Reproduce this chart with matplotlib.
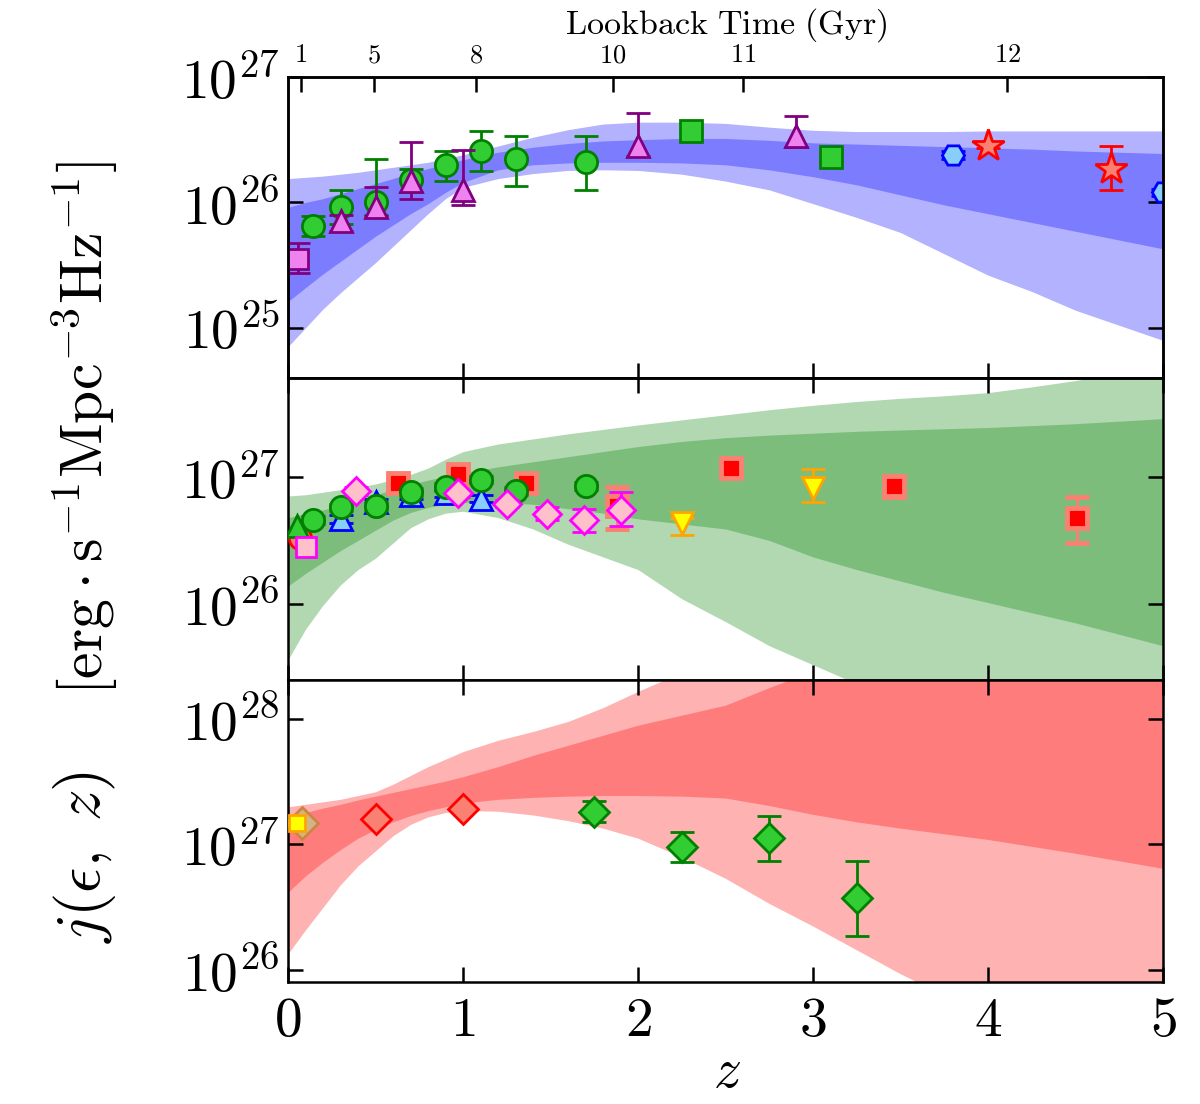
import numpy as np
import matplotlib
matplotlib.use('Agg')
import matplotlib.pyplot as plt
from matplotlib.ticker import FixedLocator, FixedFormatter, NullLocator

plt.rcParams['mathtext.fontset'] = 'cm'
plt.rcParams['font.family'] = ['DejaVu Serif']

# ---------------- data (log10 of j) ----------------
band_z = [0, 0.1, 0.2, 0.3, 0.4, 0.5, 0.6, 0.7, 0.8, 0.9, 1.0, 1.2, 1.4, 1.6, 1.8,
          2.0, 2.25, 2.5, 2.75, 3.0, 3.25, 3.5, 3.75, 4.0, 4.25, 4.5, 4.75, 5.0]

uv_out_hi = [26.19, 26.20, 26.21, 26.225, 26.24, 26.26, 26.28, 26.30, 26.32, 26.35, 26.38, 26.45, 26.52, 26.58, 26.625,
             26.64, 26.64, 26.63, 26.60, 26.575, 26.565, 26.565, 26.565, 26.57, 26.57, 26.57, 26.57, 26.57]
uv_in_hi = [25.96, 26.00, 26.03, 26.07, 26.11, 26.15, 26.19, 26.235, 26.27, 26.305, 26.34, 26.40, 26.44, 26.47, 26.49,
            26.50, 26.51, 26.51, 26.495, 26.475, 26.465, 26.455, 26.445, 26.435, 26.425, 26.41, 26.40, 26.39]
uv_in_lo = [25.21, 25.32, 25.43, 25.53, 25.63, 25.73, 25.82, 25.91, 25.99, 26.08, 26.16, 26.26, 26.30, 26.315, 26.32,
            26.32, 26.315, 26.30, 26.26, 26.205, 26.14, 26.06, 25.98, 25.91, 25.84, 25.77, 25.70, 25.63]
uv_out_lo = [24.85, 25.00, 25.15, 25.28, 25.40, 25.52, 25.65, 25.78, 25.91, 26.03, 26.12, 26.19, 26.23, 26.255, 26.26,
             26.255, 26.225, 26.17, 26.10, 25.99, 25.88, 25.76, 25.59, 25.42, 25.29, 25.14, 25.02, 24.90]

opt_out_hi = [26.85, 26.86, 26.88, 26.90, 26.92, 26.945, 26.98, 27.02, 27.07, 27.14, 27.20, 27.26, 27.30, 27.34, 27.375,
              27.41, 27.45, 27.49, 27.53, 27.565, 27.595, 27.62, 27.64, 27.665, 27.71, 27.76, 27.82, 27.88]
opt_in_hi = [26.68, 26.71, 26.74, 26.78, 26.82, 26.86, 26.90, 26.94, 26.975, 27.005, 27.03, 27.08, 27.12, 27.16, 27.20,
             27.24, 27.28, 27.31, 27.33, 27.345, 27.36, 27.37, 27.38, 27.39, 27.405, 27.42, 27.44, 27.46]
opt_in_lo = [26.14, 26.24, 26.33, 26.42, 26.50, 26.58, 26.66, 26.72, 26.76, 26.785, 26.80, 26.80, 26.785, 26.75, 26.715,
             26.67, 26.63, 26.59, 26.50, 26.37, 26.27, 26.18, 26.09, 26.01, 25.93, 25.85, 25.76, 25.67]
opt_out_lo = [25.56, 25.80, 25.99, 26.15, 26.27, 26.36, 26.48, 26.60, 26.67, 26.715, 26.73, 26.68, 26.59, 26.47, 26.37,
              26.27, 26.04, 25.86, 25.67, 25.52, 25.37, 25.24, 25.12, 25.00, 24.90, 24.80, 24.70, 24.60]

nir_out_hi = [27.30, 27.32, 27.34, 27.36, 27.39, 27.42, 27.48, 27.55, 27.62, 27.68, 27.74, 27.83, 27.90, 27.98, 28.09,
              28.22, 28.37, 28.50, 28.60, 28.70, 28.78, 28.85, 28.92, 28.98, 29.04, 29.10, 29.15, 29.20]
nir_in_hi = [27.22, 27.255, 27.29, 27.32, 27.355, 27.385, 27.415, 27.445, 27.475, 27.505, 27.54, 27.62, 27.71, 27.79, 27.87,
             27.95, 28.03, 28.11, 28.25, 28.38, 28.50, 28.60, 28.70, 28.78, 28.86, 28.93, 29.00, 29.05]
nir_in_lo = [26.62, 26.75, 26.86, 26.96, 27.05, 27.12, 27.18, 27.23, 27.27, 27.30, 27.33, 27.36, 27.375, 27.385, 27.39,
             27.39, 27.385, 27.37, 27.31, 27.24, 27.18, 27.13, 27.085, 27.04, 26.985, 26.93, 26.87, 26.81]
nir_out_lo = [26.13, 26.32, 26.50, 26.68, 26.83, 26.95, 27.07, 27.16, 27.22, 27.255, 27.27, 27.265, 27.235, 27.19, 27.13,
              27.05, 26.90, 26.73, 26.53, 26.35, 26.16, 25.97, 25.80, 25.65, 25.50, 25.35, 25.22, 25.10]

# UV points
uv_sq_z = [0.055]
uv_sq_j = [25.546]
uv_sq_lo = [25.434]
uv_sq_hi = [25.673]
uv_circ_z = [0.14, 0.30, 0.50, 0.70, 0.90, 1.10, 1.30, 1.70]
uv_circ_j = [25.81, 25.96, 26.00, 26.18, 26.30, 26.41, 26.35, 26.32]
uv_circ_lo = [25.73, 25.83, 25.90, 26.08, 26.17, 26.25, 26.13, 26.10]
uv_circ_hi = [25.89, 26.10, 26.35, 26.27, 26.41, 26.57, 26.53, 26.53]
uv_tri_z = [0.30, 0.50, 0.70, 1.00, 2.00, 2.90]
uv_tri_j = [25.85, 25.96, 26.17, 26.10, 26.45, 26.53]
uv_tri_lo = [25.77, 25.89, 26.03, 25.98, 26.37, 26.44]
uv_tri_hi = [25.90, 26.12, 26.48, 26.42, 26.71, 26.69]
uv_gsq_z = [2.30, 3.10]
uv_gsq_j = [26.57, 26.36]
uv_hex_z = [3.80, 5.00]
uv_hex_j = [26.38, 26.08]
uv_hex_lo = [26.35, 26.05]
uv_hex_hi = [26.41, 26.11]
uv_star_z = [4.00, 4.70]
uv_star_j = [26.45, 26.27]
uv_star_lo = [26.43, 26.10]
uv_star_hi = [26.47, 26.45]

# Optical points
opt_rc_z = [0.07]
opt_rc_j = [26.52]
opt_gtri_z = [0.05]
opt_gtri_j = [26.61]
opt_psq_z = [0.10]
opt_psq_j = [26.45]
opt_rsq_z = [0.63, 0.97, 1.36, 1.88, 2.53, 3.46, 4.51]
opt_rsq_j = [26.95, 27.02, 26.95, 26.77, 27.07, 26.93, 26.68]
opt_rsq_lo = [26.92, 26.98, 26.92, 26.59, 27.04, 26.84, 26.48]
opt_rsq_hi = [26.98, 27.06, 26.98, 26.92, 27.10, 27.00, 26.84]
opt_btri_z = [0.30, 0.50, 0.70, 0.90, 1.10]
opt_btri_j = [26.67, 26.80, 26.86, 26.87, 26.83]
opt_btri_lo = [26.64, 26.77, 26.83, 26.84, 26.80]
opt_btri_hi = [26.70, 26.83, 26.89, 26.90, 26.86]
opt_circ_z = [0.14, 0.30, 0.50, 0.70, 0.90, 1.10, 1.30, 1.70]
opt_circ_j = [26.66, 26.76, 26.77, 26.88, 26.92, 26.98, 26.89, 26.93]
opt_circ_lo = [26.63, 26.73, 26.74, 26.85, 26.89, 26.95, 26.86, 26.90]
opt_circ_hi = [26.69, 26.79, 26.80, 26.91, 26.95, 27.01, 26.92, 26.96]
opt_ytri_z = [2.25, 3.00]
opt_ytri_j = [26.64, 26.91]
opt_ytri_lo = [26.54, 26.80]
opt_ytri_hi = [26.68, 27.06]
opt_dia_z = [0.39, 0.97, 1.25, 1.48, 1.69, 1.90]
opt_dia_j = [26.89, 26.87, 26.79, 26.71, 26.66, 26.74]
opt_dia_lo = [26.86, 26.84, 26.76, 26.66, 26.57, 26.61]
opt_dia_hi = [26.92, 26.90, 26.82, 26.76, 26.75, 26.88]

# NIR points
nir_tan_z = [0.08]
nir_tan_j = [27.17]
nir_ysq_z = [0.05]
nir_ysq_j = [27.17]
nir_rdia_z = [0.50, 1.00]
nir_rdia_j = [27.20, 27.28]
nir_gdia_z = [1.75, 2.25, 2.75, 3.25]
nir_gdia_j = [27.26, 26.98, 27.05, 26.57]
nir_gdia_lo = [27.18, 26.86, 26.87, 26.27]
nir_gdia_hi = [27.35, 27.10, 27.23, 26.87]

lookback_z = [0.074, 0.49, 1.074, 1.857, 2.60, 4.11]
lookback_labels = ['1', '5', '8', '10', '11', '12']

# ---------------- figure ----------------
fig = plt.figure(figsize=(12, 11.04), dpi=100)
L = 288 / 1200
W = (1163 - 288) / 1200


def pos(top, bot):
    return [L, 1 - bot / 1104, W, (bot - top) / 1104]


ax1 = fig.add_axes(pos(77, 378))
ax2 = fig.add_axes(pos(378, 680))
ax3 = fig.add_axes(pos(680, 982))


def band(ax, color, out_lo, in_lo, in_hi, out_hi):
    z = np.asarray(band_z)
    ax.fill_between(z, 10 ** np.asarray(out_lo), 10 ** np.asarray(out_hi),
                    color=color, alpha=0.3, lw=0, zorder=1)
    ax.fill_between(z, 10 ** np.asarray(in_lo), 10 ** np.asarray(in_hi),
                    color=color, alpha=0.3, lw=0, zorder=1.1)


def pts(ax, z, j, lo=None, hi=None, marker='o', fc='w', ec='k', ms=15,
        mew=2, ecolor=None, zo=3):
    z = np.asarray(z)
    jj = 10 ** np.asarray(j)
    if lo is None:
        ax.plot(z, jj, ls='none', marker=marker, mfc=fc, mec=ec, ms=ms,
                mew=mew, zorder=zo)
    else:
        yerr = [jj - 10 ** np.asarray(lo), 10 ** np.asarray(hi) - jj]
        ax.errorbar(z, jj, yerr=yerr, fmt=marker, mfc=fc, mec=ec, ms=ms,
                    mew=mew, ecolor=ecolor or ec, elinewidth=2, capsize=8.5,
                    capthick=2, zorder=zo)


band(ax1, 'blue', uv_out_lo, uv_in_lo, uv_in_hi, uv_out_hi)
band(ax2, 'green', opt_out_lo, opt_in_lo, opt_in_hi, opt_out_hi)
band(ax3, 'red', nir_out_lo, nir_in_lo, nir_in_hi, nir_out_hi)

# UV
pts(ax1, uv_sq_z, uv_sq_j, uv_sq_lo, uv_sq_hi, 's', 'violet', 'purple', 15, zo=3)
pts(ax1, uv_circ_z, uv_circ_j, uv_circ_lo, uv_circ_hi, 'o', 'limegreen', 'green', 16, zo=4)
pts(ax1, uv_tri_z, uv_tri_j, uv_tri_lo, uv_tri_hi, '^', 'violet', 'purple', 16, zo=5)
pts(ax1, uv_gsq_z, uv_gsq_j, None, None, 's', 'limegreen', 'green', 16, zo=5)
pts(ax1, uv_hex_z, uv_hex_j, uv_hex_lo, uv_hex_hi, 'H', 'lightskyblue', 'blue', 16, zo=5)
pts(ax1, uv_star_z, uv_star_j, uv_star_lo, uv_star_hi, '*', 'salmon', 'red', 24, zo=5)

# Optical
pts(ax2, opt_rc_z, opt_rc_j, None, None, 'o', 'salmon', 'red', 16, zo=3)
pts(ax2, opt_gtri_z, opt_gtri_j, None, None, '^', 'limegreen', 'green', 16, zo=3.1)
pts(ax2, opt_psq_z, opt_psq_j, None, None, 's', 'pink', 'magenta', 15, zo=3.2)
pts(ax2, opt_rsq_z, opt_rsq_j, opt_rsq_lo, opt_rsq_hi, 's', 'red', 'salmon', 14, mew=3.5, zo=3.3)
pts(ax2, opt_btri_z, opt_btri_j, opt_btri_lo, opt_btri_hi, '^', 'lightskyblue', 'blue', 16, zo=3.4)
pts(ax2, opt_circ_z, opt_circ_j, opt_circ_lo, opt_circ_hi, 'o', 'limegreen', 'green', 16, zo=3.5)
pts(ax2, opt_ytri_z, opt_ytri_j, opt_ytri_lo, opt_ytri_hi, 'v', 'yellow', 'orange', 16, zo=3.6)
pts(ax2, opt_dia_z, opt_dia_j, opt_dia_lo, opt_dia_hi, 'D', 'pink', 'magenta', 14.5, zo=3.7)

# NIR
pts(ax3, nir_tan_z, nir_tan_j, None, None, 'D', 'tan', 'peru', 16, zo=3)
pts(ax3, nir_ysq_z, nir_ysq_j, None, None, 's', 'yellow', 'orange', 12, zo=3.1)
pts(ax3, nir_rdia_z, nir_rdia_j, None, None, 'D', 'salmon', 'red', 15, zo=3.2)
pts(ax3, nir_gdia_z, nir_gdia_j, nir_gdia_lo, nir_gdia_hi, 'D', 'limegreen', 'green', 15, zo=3.3)

# ---------------- axes formatting ----------------
ylims = [(24.60, 27.0), (25.40, 27.78), (25.905, 28.31)]
yticks = [[25, 26, 27], [26, 27], [26, 27, 28]]
tick_fs = 40
for ax, (a, b), yt in zip([ax1, ax2, ax3], ylims, yticks):
    ax.set_yscale('log')
    ax.set_xlim(0, 5)
    ax.set_ylim(10 ** a, 10 ** b)
    ax.yaxis.set_major_locator(FixedLocator([10.0 ** t for t in yt]))
    ax.yaxis.set_major_formatter(FixedFormatter([r'$10^{%d}$' % t for t in yt]))
    ax.yaxis.set_minor_locator(NullLocator())
    ax.xaxis.set_major_locator(FixedLocator([0, 1, 2, 3, 4, 5]))
    ax.xaxis.set_minor_locator(NullLocator())
    ax.tick_params(which='major', direction='in', length=11, width=1.8,
                   labelsize=tick_fs, pad=6, left=True, right=True,
                   top=True, bottom=True)
    for s in ax.spines.values():
        s.set_linewidth(1.8)
    ax.set_facecolor('white')

ax1.tick_params(top=False, labelbottom=False)
ax2.tick_params(labelbottom=False)
ax3.xaxis.set_major_formatter(FixedFormatter([r'$%d$' % v for v in range(6)]))
ax3.tick_params(axis='x', pad=8)

# top lookback axis
axt = ax1.twiny()
axt.set_xlim(0, 5)
axt.xaxis.set_major_locator(FixedLocator(lookback_z))
axt.xaxis.set_major_formatter(FixedFormatter([r'$%s$' % s for s in lookback_labels]))
axt.xaxis.set_minor_locator(NullLocator())
axt.tick_params(direction='in', length=11, width=1.8, labelsize=19, pad=7)
for s in axt.spines.values():
    s.set_linewidth(1.8)

# hide unused (empty) axis label texts
for ax in [ax1, ax2, ax3, axt]:
    ax.xaxis.label.set_visible(False)
    ax.yaxis.label.set_visible(False)

# panel labels
ax1.text(0.42, 0.10, r'$\mathrm{UV}$', transform=ax1.get_yaxis_transform(),
         fontsize=44, ha='left', va='baseline', zorder=10)
ax2.text(0.41, 0.083, r'$\mathrm{Optical}$', transform=ax2.get_yaxis_transform(),
         fontsize=44, ha='left', va='baseline', zorder=10)
ax3.text(0.41, 0.106, r'$\mathrm{NIR}$', transform=ax3.get_yaxis_transform(),
         fontsize=44, ha='left', va='baseline', zorder=10)

fig.text(726 / 1200, 1 - 25 / 1104, r'$\mathrm{Lookback\ Time\ (Gyr)}$',
         fontsize=24.5, ha='center', va='center')
fig.text(727 / 1200, 1 - 1072 / 1104, r'$z$', fontsize=40, ha='center', va='center')
fig.text(85 / 1200, 1 - 428 / 1104,
         r'$[\mathrm{erg}\cdot\mathrm{s}^{-1}\mathrm{Mpc}^{-3}\mathrm{Hz}^{-1}]$',
         fontsize=43, rotation=90, ha='center', va='center')
fig.text(85 / 1200, 1 - 857 / 1104, r'$j(\epsilon,\ z)$',
         fontsize=45, rotation=90, ha='center', va='center')

fig.savefig('out.png', dpi=100, facecolor='white')
